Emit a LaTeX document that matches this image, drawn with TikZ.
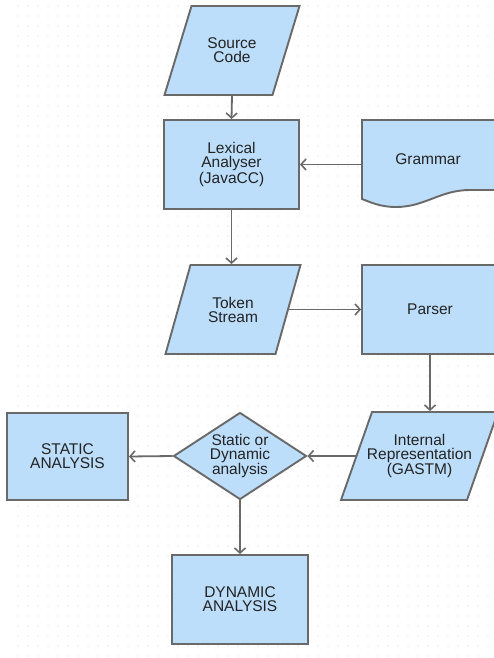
\documentclass[tikz,border=0pt]{standalone}
\usepackage{fontspec}
\setmainfont{Liberation Sans}
\usepackage{tikz}
\usetikzlibrary{shapes.geometric}
\usetikzlibrary{arrows.meta}
\definecolor{boxblue}{RGB}{188,222,250}
\definecolor{edgegray}{RGB}{105,105,105}
\definecolor{dotgray}{RGB}{212,212,212}
\definecolor{textgray}{RGB}{35,35,35}
\tikzset{
  flowshape/.style={draw=edgegray,line width=1.9pt,fill=boxblue},
  flowbox/.style={flowshape,text=textgray,
    align=center,inner sep=0pt,font=\fontsize{15.5}{14}\selectfont},
  procbox/.style={flowbox,rectangle,minimum width=#1,minimum height=89},
  labelbox/.style={flowbox,draw=none,fill=none,rectangle},
  choicebox/.style={flowbox,diamond,aspect=1.5,minimum width=133,minimum height=87},
  flowarrow/.style={draw=edgegray,line width=1.8pt,
    -{Straight Barb[length=5pt,width=11pt,line width=1.6pt]}}
}
% name, centre, width at mid height, height, slant, text
\newcommand{\drawionode}[6]{
  \begin{scope}[shift={#2}]
  \draw[flowshape] ({-#3/2+#5/2},{-#4/2}) -- ({#3/2+#5/2},{-#4/2})
    -- ({#3/2-#5/2},{#4/2}) -- ({-#3/2-#5/2},{#4/2}) -- cycle;
  \end{scope}
  \node[labelbox,minimum width=#3,minimum height=#4] (#1) at #2 {#6};
}

\begin{document}
\begin{tikzpicture}[x=1pt,y=-1pt]
      \clip (0,0) rectangle (494,658);
      \fill[white] (0,0) rectangle (494,658);
      \foreach \x in {18,28,...,490}
        \foreach \y in {6,16,...,656}
          \fill[dotgray] (\x,\y) circle (0.7);

      \drawionode{src}{(232,50.5)}{108}{89}{27}{Source\\Code};
      \node[procbox=135] (lex) at (231.5,164.5) {Lexical\\Analyser\\(JavaCC)};

      \draw[flowshape] (362,120) -- (500,120) -- (500,190)
        -- (470,190) .. controls (440,190) and (425,207) .. (396,207)
        .. controls (380,207) and (370,202) .. (362,199) -- cycle;
      \node[labelbox,minimum width=132,minimum height=79] (gram) at (428,159.5) {Grammar};

      \drawionode{tok}{(233,309.5)}{110}{89}{25}{Token\\Stream};
      \node[procbox=136] (parser) at (430,309.5) {Parser};

      \drawionode{intrep}{(419.5,456)}{126}{88}{31}{Internal\\Representation\\(GASTM)};
      \node[choicebox] (choice) at (240,456) {Static or\\Dynamic\\analysis};
      \node[procbox=121,minimum height=87] (stat) at (67.5,456.5) {STATIC\\ANALYSIS};
      \node[procbox=136] (dyn) at (240,599.5) {DYNAMIC\\ANALYSIS};

      \draw[flowarrow] (src.south) -- (lex.north);
      \draw[flowarrow] (gram.west |- lex.east) -- (lex.east);
      \draw[flowarrow] (lex.south) -- (lex.south |- tok.north);
      \draw[flowarrow] (tok.east) -- (parser.west);
      \draw[flowarrow] (parser.south) -- (parser.south |- intrep.north);
      \draw[flowarrow] (intrep.west) -- (choice.east);
      \draw[flowarrow] (choice.west) -- (stat.east);
      \draw[flowarrow] (choice.south) -- (dyn.north);
    \end{tikzpicture}
\end{document}
